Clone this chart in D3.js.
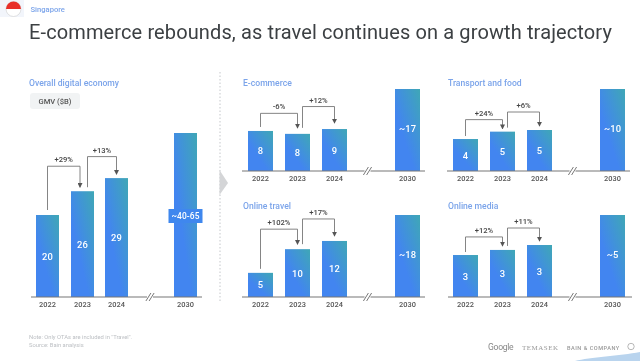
<!DOCTYPE html>
<html><head><meta charset="utf-8">
<script src="https://cdn.jsdelivr.net/npm/d3@7"></script>
<style>
html,body{margin:0;padding:0;background:#fff;width:640px;height:361px;overflow:hidden}
svg{display:block;filter:blur(0.45px)}
text{font-family:Roboto,"Open Sans",sans-serif}
</style></head><body>
<svg id="c" width="640" height="361"></svg>
<script>
const years = ["2022","2023","2024","2030"];
const panelNames = ["Overall digital economy","E-commerce","Transport and food","Online travel","Online media"];
const overallValues = [20,25.8,29,40];
const ecommerceValues = [8.3,7.7,8.7,17];
const transportValues = [3.9,4.8,5,10];
const travelValues = [5.3,10.5,12.3,18];
const mediaValues = [2.56,2.87,3.17,5];
const overallLabels = ["20","26","29","~40-65"];
const ecommerceLabels = ["8","8","9","~17"];
const transportLabels = ["4","5","5","~10"];
const travelLabels = ["5","10","12","~18"];
const mediaLabels = ["3","3","3","~5"];
const overallGrowth = ["+29%","+13%"];
const ecommerceGrowth = ["-6%","+12%"];
const transportGrowth = ["+24%","+6%"];
const travelGrowth = ["+102%","+17%"];
const mediaGrowth = ["+12%","+11%"];

const panels = [
 {name:panelNames[0],v:overallValues,l:overallLabels,g:overallGrowth,bx:[36,71,105,174],bw:23,base:297,h:164,ax:[31,202],tx:29,ty:86,rise:[25,21.5],gap:[5,4],arrowGap:[4,4],cx1:[0,-11]},
 {name:panelNames[1],v:ecommerceValues,l:ecommerceLabels,g:ecommerceGrowth,bx:[248,285,322,395],bw:25,base:171,h:82,ax:[242,425],tx:243,ty:86,rise:[20.5,22.5],gap:[4,6],arrowGap:[6,6],cx1:[0,-10]},
 {name:panelNames[2],v:transportValues,l:transportLabels,g:transportGrowth,bx:[453,490,527,600],bw:25,base:171,h:82,ax:[447,630],tx:448,ty:86,rise:[12,18],gap:[3,4],arrowGap:[3,4],cx1:[0,-10]},
 {name:panelNames[3],v:travelValues,l:travelLabels,g:travelGrowth,bx:[248,285,322,395],bw:25,base:297,h:82,ax:[242,425],tx:243,ty:209,rise:[20,22],gap:[4,5],arrowGap:[5,5],cx1:[0,-10]},
 {name:panelNames[4],v:mediaValues,l:mediaLabels,g:mediaGrowth,bx:[453,490,527,600],bw:25,base:297,h:82,ax:[448,632],tx:448,ty:209,rise:[13,17],gap:[3,4],arrowGap:[4,4],cx1:[0,-10]}
];

const svg = d3.select("#c");
const defs = svg.append("defs");
const grad = defs.append("linearGradient").attr("id","barGrad")
  .attr("x1","100%").attr("y1","0%").attr("x2","40%").attr("y2","65%");
grad.append("stop").attr("offset","0%").attr("stop-color","#3fa7b6");
grad.append("stop").attr("offset","100%").attr("stop-color","#4285f0");
defs.append("marker").attr("id","arr").attr("viewBox","0 0 6 6").attr("refX",5).attr("refY",3)
  .attr("markerWidth",5).attr("markerHeight",5).attr("orient","auto").attr("markerUnits","userSpaceOnUse")
  .append("path").attr("d","M0,0L6,3L0,6Z").attr("fill","#555");

// header
const flag = svg.append("g");
flag.append("rect").attr("x",0).attr("y",0).attr("width",24).attr("height",17).attr("fill","#e9eff8").attr("opacity",.6);
flag.append("circle").attr("cx",13.5).attr("cy",9).attr("r",7.5).attr("fill","#fff").attr("stroke","#ccc").attr("stroke-width",.6);
flag.append("path").attr("d",d3.arc()({innerRadius:0,outerRadius:7.5,startAngle:-Math.PI/2,endAngle:Math.PI/2})).attr("transform","translate(13.5,9)").attr("fill","#e8302a");
svg.append("text").attr("x",30.5).attr("y",12).attr("font-size",7.6).attr("font-weight",500).attr("fill","#7ba4ea").text("Singapore");
svg.append("text").attr("x",29).attr("y",39).attr("font-size",20).attr("fill","#3c4043").attr("letter-spacing",.12)
  .text("E-commerce rebounds, as travel continues on a growth trajectory");

// separator + chevron
svg.append("line").attr("x1",220).attr("x2",220).attr("y1",72).attr("y2",303).attr("stroke","#c4c7cb").attr("stroke-width",1).attr("stroke-dasharray","1.5 2");
svg.append("path").attr("d","M219.5,170L228,183L219.5,195Z").attr("fill","#d4d5d7");

// GMV chip
svg.append("rect").attr("x",30).attr("y",93).attr("width",50).attr("height",16).attr("rx",3).attr("fill","#f1f3f4");
svg.append("text").attr("x",55).attr("y",104).attr("text-anchor","middle").attr("font-size",7.6).attr("font-weight",500).attr("fill","#555").text("GMV ($B)");

panels.forEach(p=>{
  const g = svg.append("g");
  const y = d3.scaleLinear().domain([0,d3.max(p.v)]).range([p.base,p.base-p.h]);
  const x = d3.scaleOrdinal().domain(years).range(p.bx);
  const cx = i=>x(years[i])+p.bw/2;

  g.append("text").attr("x",p.tx).attr("y",p.ty).attr("font-size",8.6).attr("font-weight",500).attr("fill","#7ba4ea").text(p.name);

  g.selectAll("rect.bar").data(p.v).join("rect").attr("class","bar")
    .attr("x",(d,i)=>x(years[i])).attr("width",p.bw)
    .attr("y",d=>y(d)).attr("height",d=>y(0)-y(d)).attr("fill","url(#barGrad)");

  // axis line with break
  const breakX = (cx(2)+cx(3))/2 + (p===panels[0]?-1:-3.5);
  g.append("line").attr("x1",p.ax[0]).attr("x2",p.ax[1]).attr("y1",p.base).attr("y2",p.base).attr("stroke","#777").attr("stroke-width",1.2);
  g.append("rect").attr("x",breakX-3).attr("y",p.base-2).attr("width",6).attr("height",4).attr("fill","#fff");
  [-1.6,1.6].forEach(o=>g.append("line").attr("x1",breakX+o-2.5).attr("x2",breakX+o+2.5).attr("y1",p.base+4).attr("y2",p.base-4).attr("stroke","#555").attr("stroke-width",.8));

  // tick labels
  g.selectAll("text.yr").data(years).join("text").attr("class","yr")
    .attr("x",(d,i)=>cx(i)).attr("y",p.base+10).attr("text-anchor","middle")
    .attr("font-size",7.4).attr("font-weight",500).attr("fill","#555").text(d=>d);

  // value labels
  g.selectAll("text.val").data(p.v).join("text").attr("class","val")
    .attr("x",(d,i)=>cx(i)).attr("y",(d,i)=> i===3 ? y(d)+ (p.h/2) - (p===panels[0]?-1:1) +3 : (y(d)+y(0))/2+3.5)
    .attr("text-anchor","middle").attr("font-size",(d,i)=>p===panels[0]&&i===3?8.4:9.4).attr("font-weight",500)
    .attr("fill","#fff").attr("letter-spacing",.1).each(function(d,i){
      if(p===panels[0]&&i===3){
        g.insert("rect",()=>this).attr("x",cx(i)-17).attr("y",y(d)+p.h/2-6).attr("width",34).attr("height",14).attr("fill","#3f87ee");
      }
    }).text((d,i)=>p.l[i]);

  // growth brackets
  p.g.forEach((t,i)=>{
    const toTop = y(p.v[i+1]);
    const level = toTop-p.rise[i];
    const x0 = i===0 ? cx(0) : cx(1)+5;
    const x1 = i===0 ? cx(1)+ (p===panels[0]?-2.5:0) : cx(2);
    const startY = (i===0 ? y(p.v[0]) : toTop + 0) - p.gap[i] - (i===1 ? y(p.v[2])-y(p.v[1])+ 0 : 0) ;
    g.append("path").attr("d",`M${x0},${i===0?startY:y(p.v[1])-p.gap[1]}V${level}H${x1}V${toTop-p.arrowGap[i]-(i===0?0:0)}`)
      .attr("fill","none").attr("stroke","#777").attr("stroke-width",.9).attr("marker-end","url(#arr)");
    g.append("text").attr("x",(x0+x1)/2).attr("y",level-4).attr("text-anchor","middle")
      .attr("font-size",7.6).attr("font-weight",500).attr("fill","#444").text(t);
  });
});

// footer
svg.append("text").attr("x",29).attr("y",339).attr("font-size",5.8).attr("fill","#bcbfc3").text('Note: Only OTAs are included in "Travel".');
svg.append("text").attr("x",29).attr("y",346.5).attr("font-size",5.8).attr("fill","#bcbfc3").text("Source: Bain analysis");
svg.append("text").attr("x",488).attr("y",350).attr("font-size",8.6).attr("fill","#888").attr("letter-spacing",-.3).text("Google");
svg.append("text").attr("x",522).attr("y",350).attr("font-family","Liberation Serif").style("font-family","Liberation Serif").attr("font-size",7).attr("letter-spacing",.5).attr("fill","#999").text("TEMASEK");
svg.append("text").attr("x",567).attr("y",349.5).attr("font-size",5.6).attr("font-weight",500).attr("letter-spacing",.5).attr("fill","#999").text("BAIN & COMPANY");
svg.append("circle").attr("cx",631).attr("cy",346.5).attr("r",3.2).attr("fill","none").attr("stroke","#999").attr("stroke-width",.7);
svg.append("path").attr("d","M575,361C590,357 620,356 640,352V361Z").attr("fill","#b9d4ee");
</script></body></html>
